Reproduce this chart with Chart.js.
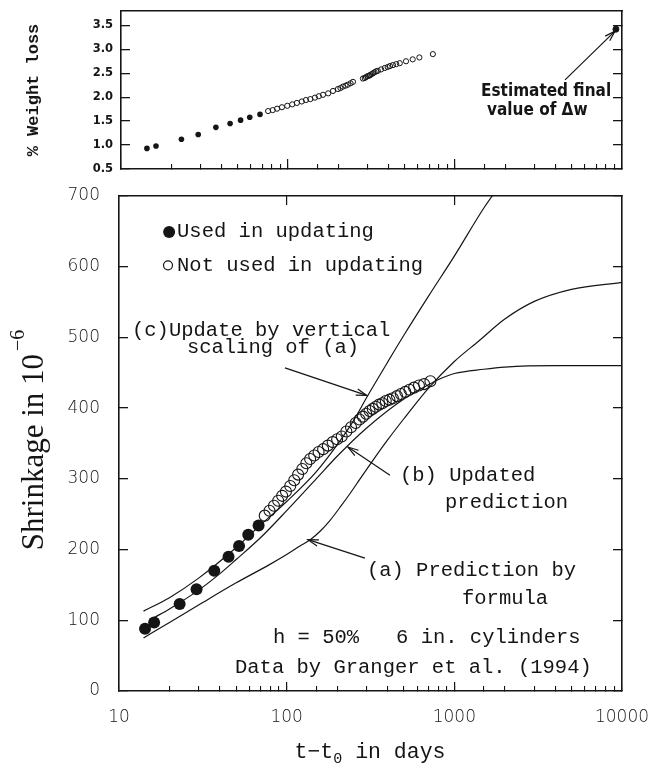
<!DOCTYPE html>
<html><head><meta charset="utf-8">
<script src="https://cdn.jsdelivr.net/npm/chart.js@4.4.1/dist/chart.umd.min.js"></script>
<style>
html,body{margin:0;padding:0;background:#fff;}
#wrap{position:relative;width:670px;height:774px;overflow:hidden;background:#fff;}
canvas{position:absolute;left:0;}
#top{top:0;width:670px;height:190px;}
#bot{top:170px;width:670px;height:604px;}
</style></head><body>
<div id="wrap">
<canvas id="top" width="670" height="190"></canvas>
<canvas id="bot" width="670" height="604"></canvas>
</div>
<script>
// ---------------- data ----------------
const xTickLabels = [10, 100, 1000, 10000];
const xMajorTicks = [100, 1000];
const shrinkTicks = [0, 100, 200, 300, 400, 500, 600, 700];
const weightTicks = [0.5, 1.0, 1.5, 2.0, 2.5, 3.0, 3.5];

// measured points used in updating (filled)
const usedT = [14.3, 16.2, 23, 29, 37, 45, 52, 59, 68];
const usedShrink = [88, 97, 123, 144, 170, 190, 205, 221, 234];
const usedWeight = [0.93, 0.98, 1.12, 1.22, 1.37, 1.45, 1.52, 1.58, 1.64];

// measured points not used in updating (open)
const openT = [74, 79, 84, 89, 94, 99, 105, 111, 117, 124, 131, 138, 146, 155, 165, 176, 188, 200, 213, 227, 242, 258, 272, 285, 298, 312, 326, 340, 356, 372, 390, 410, 430, 455, 480, 510, 540, 575, 615, 660, 720];
const openShrink = [248, 255, 262, 269, 276, 282, 290, 298, 306, 314, 322, 328, 333, 338, 342, 347, 352, 356, 360, 367, 373, 379, 384, 388, 392, 396, 399, 402, 405, 407, 410, 412, 414, 417, 420, 423, 426, 429, 432, 434, 438];

const openWT = [76, 81, 86, 92, 99, 106, 113, 121, 128, 136, 145, 153, 162, 174, 186, 199, 206, 213, 221, 228, 237, 245, 281, 288, 293, 300, 306, 310, 316, 323, 330, 337, 345, 361, 380, 395, 408, 425, 445, 467, 509, 558, 612, 737];
const openWeight = [1.71, 1.73, 1.76, 1.79, 1.82, 1.85, 1.88, 1.91, 1.94, 1.96, 1.99, 2.02, 2.05, 2.08, 2.13, 2.17, 2.19, 2.22, 2.24, 2.26, 2.29, 2.32, 2.39, 2.40, 2.42, 2.44, 2.45, 2.46, 2.48, 2.50, 2.52, 2.54, 2.55, 2.58, 2.61, 2.63, 2.65, 2.67, 2.69, 2.71, 2.75, 2.79, 2.83, 2.90];

// estimated final weight loss
const finalT = [9200];
const finalWeight = [3.42];

// (a) prediction by formula
const curveAT = [14, 20, 30, 50, 78, 100, 120, 140, 160, 181, 210, 240, 274, 320, 400, 500, 700, 1000, 1400, 2000, 3000, 5000, 10000];
const curveAV = [75, 97, 122, 153, 178, 193, 205, 215, 227, 241, 261, 280, 300, 323, 355, 385, 428, 466, 495, 526, 551, 568, 578];
// (b) updated prediction
const curveBT = [16, 20, 30, 40, 50, 70, 100, 150, 200, 300, 500, 700, 850, 1000, 1500, 2000, 4000, 10000];
const curveBV = [103, 116, 143, 166, 186, 217, 255, 300, 332, 372, 413, 433, 443, 449, 455, 458, 460, 460];
// (c) update by vertical scaling of (a)
const curveCT = [14, 20, 30, 50, 70, 100, 150, 200, 250, 300, 400, 500, 700, 1000, 1500, 2000];
const curveCV = [113, 132, 160, 203, 235, 268, 310, 348, 382, 415, 465, 503, 558, 615, 683, 725];

// ---------------- styling ----------------
const ink = '#151515';
const MONO = "'Liberation Mono', 'Courier New', monospace";
const SERIF = "'Liberation Serif', 'Times New Roman', serif";
const NARROW = "'Liberation Sans Narrow', 'DejaVu Sans Condensed', 'Liberation Sans', sans-serif";

const pts = (xs, ys) => xs.map((x, i) => ({x: x, y: ys[i]}));
const fit = (prop, val) => (s) => { s[prop] = val; s.paddingTop = 0; s.paddingBottom = 0; s.paddingLeft = 0; s.paddingRight = 0; };
const setTicks = (arr) => (s) => { s.ticks = arr.map(v => ({value: v})); };

function drawRuns(ctx, runs, cx, cy, rot) {
  ctx.save();
  ctx.translate(cx, cy);
  ctx.rotate(rot);
  let total = 0;
  runs.forEach(r => { ctx.font = r.font; r.w = ctx.measureText(r.text).width + (r.gap || 0); total += r.w; });
  let x = -total / 2;
  ctx.textAlign = 'left';
  ctx.textBaseline = 'alphabetic';
  runs.forEach(r => { ctx.font = r.font; ctx.fillText(r.text, x + (r.gap || 0), r.dy || 0); x += r.w; });
  ctx.restore();
}

const decor = {
  id: 'decor',
  afterDraw(chart, args, o) {
    const ctx = chart.ctx;
    const xs = chart.scales.x, ys = chart.scales.y;
    const px = (t, v) => [xs.getPixelForValue(t), ys.getPixelForValue(v)];
    ctx.save();
    ctx.fillStyle = ink;
    ctx.strokeStyle = ink;
    (o.markers || []).forEach(m => {
      const [x, y] = px(m.t, m.v);
      ctx.beginPath();
      ctx.arc(x, y, m.r, 0, Math.PI * 2);
      if (m.fill) ctx.fill(); else { ctx.lineWidth = 1.2; ctx.stroke(); }
    });
    (o.texts || []).forEach(s => {
      const [x, y] = px(s.t, s.v);
      ctx.font = s.font || o.font;
      ctx.textAlign = 'left';
      ctx.textBaseline = 'middle';
      ctx.fillText(s.text, x, y);
    });
    (o.arrows || []).forEach(a => {
      const [x1, y1] = px(a.t1, a.v1);
      const [x2, y2] = px(a.t2, a.v2);
      ctx.lineWidth = 1.2;
      ctx.beginPath(); ctx.moveTo(x1, y1); ctx.lineTo(x2, y2); ctx.stroke();
      const ang = Math.atan2(y2 - y1, x2 - x1), L = 11, W = 0.3;
      ctx.beginPath();
      ctx.moveTo(x2 - L * Math.cos(ang - W), y2 - L * Math.sin(ang - W));
      ctx.lineTo(x2, y2);
      ctx.lineTo(x2 - L * Math.cos(ang + W), y2 - L * Math.sin(ang + W));
      ctx.stroke();
    });
    (o.titles || []).forEach(ti => drawRuns(ctx, ti.runs, ti.x, ti.y, ti.rot || 0));
    ctx.restore();
  }
};

function logX(extra) {
  return Object.assign({
    type: 'logarithmic', min: 10, max: 10000,
    grid: {drawOnChartArea: false, color: ink, tickColor: ink, lineWidth: 1.1, tickLength: -5},
    border: {display: true, color: ink, width: 1.6},
    ticks: {display: false, autoSkip: false, maxRotation: 0}
  }, extra);
}
function linY(min, max, tickArr, extra) {
  return Object.assign({
    type: 'linear', min: min, max: max,
    afterBuildTicks: setTicks(tickArr),
    grid: {drawOnChartArea: false, color: ink, tickColor: ink, lineWidth: 1.3, tickLength: -9},
    border: {display: true, color: ink, width: 1.6},
    ticks: {display: false}
  }, extra);
}

// ---------------- top panel: % weight loss ----------------
new Chart(document.getElementById('top'), {
  type: 'scatter',
  data: {datasets: [
    {data: pts(usedT, usedWeight), pointRadius: 2.8, pointBackgroundColor: ink, pointBorderColor: ink, pointBorderWidth: 0},
    {data: pts(openWT, openWeight), pointRadius: 2.6, pointBackgroundColor: 'rgba(0,0,0,0)', pointBorderColor: ink, pointBorderWidth: 1},
    {data: pts(finalT, finalWeight), pointRadius: 3, pointBackgroundColor: ink, pointBorderColor: ink, clip: false}
  ]},
  options: {
    responsive: false, animation: false, devicePixelRatio: 1, events: [],
    layout: {padding: 0},
    scales: {
      x: logX({position: 'bottom', afterFit: fit('height', 21)}),
      xMaj: logX({position: {y: 0.5}, axis: 'x', afterBuildTicks: setTicks(xMajorTicks),
                  grid: {drawOnChartArea: false, color: ink, tickColor: ink, lineWidth: 1.2, tickLength: -10},
                  border: {display: false}}),
      xT: logX({position: 'top', grid: {display: false}, afterFit: fit('height', 11)}),
      y: linY(0.5, 3.8, weightTicks, {position: 'left', afterFit: fit('width', 121),
           ticks: {display: true, padding: 17, color: ink, font: {family: "'DejaVu Sans', sans-serif", size: 11.5, weight: 'bold'},
                   callback: v => v.toFixed(1)}}),
      yR: linY(0.5, 3.8, weightTicks, {position: 'right', afterFit: fit('width', 48)})
    },
    plugins: {
      legend: {display: false}, tooltip: {enabled: false},
      decor: {
        font: "bold 17px " + NARROW,
        texts: [
          {text: 'Estimated final', t: 1432, v: 2.11},
          {text: 'value of \u0394w', t: 1555, v: 1.73}
        ],
        arrows: [{t1: 4560, v1: 2.36, t2: 9080, v2: 3.38}],
        titles: [{x: 38, y: 90, rot: -Math.PI / 2, runs: [{text: '% Weight loss', font: "bold 17px " + MONO}]}]
      }
    }
  },
  plugins: [decor]
});

// ---------------- bottom panel: shrinkage ----------------
new Chart(document.getElementById('bot'), {
  type: 'scatter',
  data: {datasets: [
    {data: pts(usedT, usedShrink), pointRadius: 6, pointBackgroundColor: ink, pointBorderColor: ink, pointBorderWidth: 0},
    {data: pts(openT, openShrink), pointRadius: 5.5, pointBackgroundColor: 'rgba(0,0,0,0)', pointBorderColor: ink, pointBorderWidth: 1.1},
    {data: pts(curveCT, curveCV), showLine: true, pointRadius: 0, borderColor: ink, borderWidth: 1.2, cubicInterpolationMode: 'monotone'},
    {data: pts(curveBT, curveBV), showLine: true, pointRadius: 0, borderColor: ink, borderWidth: 1.2, cubicInterpolationMode: 'monotone'},
    {data: pts(curveAT, curveAV), showLine: true, pointRadius: 0, borderColor: ink, borderWidth: 1.2, cubicInterpolationMode: 'monotone'}
  ]},
  options: {
    responsive: false, animation: false, devicePixelRatio: 1, events: [],
    layout: {padding: 0},
    scales: {
      x: logX({position: 'bottom', afterFit: fit('height', 83),
        ticks: {display: true, autoSkip: false, maxRotation: 0, padding: 21, color: ink,
                font: {family: "'DejaVu Sans', sans-serif", size: 17, weight: '200'},
                callback: v => xTickLabels.includes(v) ? String(v) : ''}}),
      xMaj: logX({position: {y: 0}, axis: 'x', afterBuildTicks: setTicks(xMajorTicks),
                  grid: {drawOnChartArea: false, color: ink, tickColor: ink, lineWidth: 1.2, tickLength: -9},
                  border: {display: false}}),
      xT: logX({position: 'top', afterBuildTicks: setTicks(xMajorTicks), afterFit: fit('height', 26),
                grid: {drawOnChartArea: false, color: ink, tickColor: ink, lineWidth: 1.2, tickLength: -9}}),
      y: linY(0, 700, shrinkTicks, {position: 'left', afterFit: fit('width', 119),
           ticks: {display: true, padding: 28, color: ink, font: {family: "'DejaVu Sans', sans-serif", size: 17, weight: '200'}}}),
      yR: linY(0, 700, shrinkTicks, {position: 'right', afterFit: fit('width', 48)})
    },
    plugins: {
      legend: {display: false}, tooltip: {enabled: false},
      decor: {
        font: "20.5px " + MONO,
        markers: [{t: 19.9, v: 649, r: 6, fill: true}, {t: 19.6, v: 602, r: 4.5, fill: false}],
        texts: [
          {text: 'Used in updating', t: 22.2, v: 649},
          {text: 'Not used in updating', t: 22.2, v: 602},
          {text: '(c)Update by vertical', t: 11.95, v: 510},
          {text: 'scaling of (a)', t: 25.4, v: 485},
          {text: '(b) Updated', t: 474, v: 305},
          {text: 'prediction', t: 880, v: 266},
          {text: '(a) Prediction by', t: 301, v: 171},
          {text: 'formula', t: 1111, v: 131},
          {text: 'h = 50%   6 in. cylinders', t: 82.9, v: 75},
          {text: 'Data by Granger et al. (1994)', t: 49.2, v: 32.5}
        ],
        arrows: [
          {t1: 97.7, v1: 457, t2: 300, v2: 418},
          {t1: 413, v1: 305, t2: 232, v2: 345},
          {t1: 293, v1: 188, t2: 134, v2: 214}
        ],
        titles: [
          {x: 43, y: 270, rot: -Math.PI / 2, runs: [
            {text: 'Shrinkage in 10', font: "31px " + SERIF},
            {text: '\u22126', font: "20px " + SERIF, dy: -19, gap: 3}
          ]},
          {x: 370, y: 588, rot: 0, runs: [
            {text: 't\u2212t', font: "21.5px " + MONO},
            {text: '0', font: "15px " + MONO, dy: 5},
            {text: ' in days', font: "21.5px " + MONO}
          ]}
        ]
      }
    }
  },
  plugins: [decor]
});
</script>
</body></html>
